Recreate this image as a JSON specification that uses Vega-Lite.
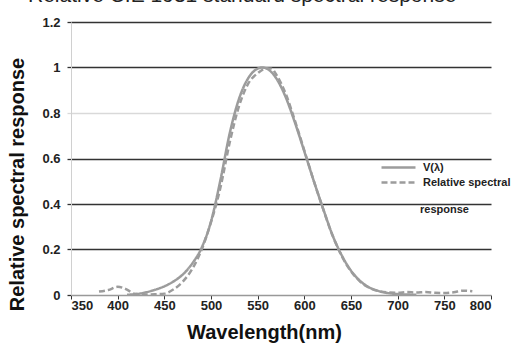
{
  "$schema": "https://vega.github.io/schema/vega-lite/v6.json",
  "width": 420,
  "height": 273,
  "autosize": "none",
  "padding": {"left": 71, "top": 22, "right": 21, "bottom": 52},
  "background": "white",
  "title": {
    "text": "Relative CIE 1931 standard spectral response",
    "anchor": "start",
    "frame": "group",
    "baseline": "alphabetic",
    "offset": 5,
    "dy": 12,
    "dx": -43,
    "font": "Liberation Sans",
    "fontSize": 21,
    "fontWeight": "normal",
    "color": "#222"
  },
  "data": {
    "values": [
      {"wl": 410, "v": 0.0012, "s": "V(λ)"},
      {"wl": 420, "v": 0.004, "s": "V(λ)"},
      {"wl": 430, "v": 0.0116, "s": "V(λ)"},
      {"wl": 440, "v": 0.023, "s": "V(λ)"},
      {"wl": 450, "v": 0.038, "s": "V(λ)"},
      {"wl": 460, "v": 0.06, "s": "V(λ)"},
      {"wl": 470, "v": 0.091, "s": "V(λ)"},
      {"wl": 480, "v": 0.139, "s": "V(λ)"},
      {"wl": 490, "v": 0.208, "s": "V(λ)"},
      {"wl": 500, "v": 0.323, "s": "V(λ)"},
      {"wl": 510, "v": 0.503, "s": "V(λ)"},
      {"wl": 520, "v": 0.71, "s": "V(λ)"},
      {"wl": 530, "v": 0.862, "s": "V(λ)"},
      {"wl": 540, "v": 0.954, "s": "V(λ)"},
      {"wl": 550, "v": 0.995, "s": "V(λ)"},
      {"wl": 555, "v": 1.0, "s": "V(λ)"},
      {"wl": 560, "v": 0.995, "s": "V(λ)"},
      {"wl": 570, "v": 0.952, "s": "V(λ)"},
      {"wl": 580, "v": 0.87, "s": "V(λ)"},
      {"wl": 590, "v": 0.757, "s": "V(λ)"},
      {"wl": 600, "v": 0.631, "s": "V(λ)"},
      {"wl": 610, "v": 0.503, "s": "V(λ)"},
      {"wl": 620, "v": 0.381, "s": "V(λ)"},
      {"wl": 630, "v": 0.265, "s": "V(λ)"},
      {"wl": 640, "v": 0.175, "s": "V(λ)"},
      {"wl": 650, "v": 0.107, "s": "V(λ)"},
      {"wl": 660, "v": 0.061, "s": "V(λ)"},
      {"wl": 670, "v": 0.032, "s": "V(λ)"},
      {"wl": 680, "v": 0.017, "s": "V(λ)"},
      {"wl": 690, "v": 0.0082, "s": "V(λ)"},
      {"wl": 700, "v": 0.0041, "s": "V(λ)"},
      {"wl": 710, "v": 0.0021, "s": "V(λ)"},
      {"wl": 720, "v": 0.00105, "s": "V(λ)"},
      {"wl": 380, "v": 0.015, "s": "Relative spectral response"},
      {"wl": 390, "v": 0.022, "s": "Relative spectral response"},
      {"wl": 400, "v": 0.036, "s": "Relative spectral response"},
      {"wl": 410, "v": 0.024, "s": "Relative spectral response"},
      {"wl": 418, "v": 0.005, "s": "Relative spectral response"},
      {"wl": 430, "v": 0.002, "s": "Relative spectral response"},
      {"wl": 440, "v": 0.003, "s": "Relative spectral response"},
      {"wl": 450, "v": 0.006, "s": "Relative spectral response"},
      {"wl": 460, "v": 0.025, "s": "Relative spectral response"},
      {"wl": 470, "v": 0.06, "s": "Relative spectral response"},
      {"wl": 480, "v": 0.115, "s": "Relative spectral response"},
      {"wl": 490, "v": 0.2, "s": "Relative spectral response"},
      {"wl": 500, "v": 0.32, "s": "Relative spectral response"},
      {"wl": 510, "v": 0.47, "s": "Relative spectral response"},
      {"wl": 520, "v": 0.67, "s": "Relative spectral response"},
      {"wl": 530, "v": 0.83, "s": "Relative spectral response"},
      {"wl": 540, "v": 0.93, "s": "Relative spectral response"},
      {"wl": 550, "v": 0.975, "s": "Relative spectral response"},
      {"wl": 560, "v": 0.997, "s": "Relative spectral response"},
      {"wl": 565, "v": 0.995, "s": "Relative spectral response"},
      {"wl": 570, "v": 0.968, "s": "Relative spectral response"},
      {"wl": 580, "v": 0.885, "s": "Relative spectral response"},
      {"wl": 590, "v": 0.765, "s": "Relative spectral response"},
      {"wl": 600, "v": 0.635, "s": "Relative spectral response"},
      {"wl": 610, "v": 0.503, "s": "Relative spectral response"},
      {"wl": 620, "v": 0.38, "s": "Relative spectral response"},
      {"wl": 630, "v": 0.264, "s": "Relative spectral response"},
      {"wl": 640, "v": 0.172, "s": "Relative spectral response"},
      {"wl": 650, "v": 0.104, "s": "Relative spectral response"},
      {"wl": 660, "v": 0.058, "s": "Relative spectral response"},
      {"wl": 670, "v": 0.031, "s": "Relative spectral response"},
      {"wl": 680, "v": 0.017, "s": "Relative spectral response"},
      {"wl": 690, "v": 0.011, "s": "Relative spectral response"},
      {"wl": 700, "v": 0.01, "s": "Relative spectral response"},
      {"wl": 710, "v": 0.013, "s": "Relative spectral response"},
      {"wl": 720, "v": 0.011, "s": "Relative spectral response"},
      {"wl": 730, "v": 0.013, "s": "Relative spectral response"},
      {"wl": 740, "v": 0.01, "s": "Relative spectral response"},
      {"wl": 750, "v": 0.009, "s": "Relative spectral response"},
      {"wl": 760, "v": 0.012, "s": "Relative spectral response"},
      {"wl": 770, "v": 0.019, "s": "Relative spectral response"},
      {"wl": 780, "v": 0.016, "s": "Relative spectral response"}
    ]
  },
  "mark": {"type": "line", "strokeWidth": 2.5, "color": "#9c9c9c", "interpolate": "monotone"},
  "encoding": {
    "x": {
      "field": "wl",
      "type": "quantitative",
      "scale": {"domain": [350, 800], "nice": false},
      "axis": {
        "title": "Wavelength(nm)",
        "values": [350, 400, 450, 500, 550, 600, 650, 700, 750, 800],
        "grid": false,
        "domainColor": "#999",
        "domainWidth": 1.5,
        "tickColor": "#333",
        "tickSize": 4,
        "labelPadding": 0,
        "labelFont": "Liberation Sans",
        "labelFontSize": 13,
        "labelFontWeight": "bold",
        "labelColor": "#222",
        "titleFont": "Liberation Sans",
        "titleFontSize": 20,
        "titleFontWeight": "bold",
        "titleColor": "#111",
        "titleX": 193,
        "titleY": 43,
        "titleBaseline": "alphabetic",
        "titleAnchor": "middle"
      }
    },
    "y": {
      "field": "v",
      "type": "quantitative",
      "scale": {"domain": [0, 1.2], "nice": false},
      "axis": {
        "title": "Relative spectral response",
        "values": [0, 0.2, 0.4, 0.6, 0.8, 1, 1.2],
        "labelExpr": "datum.value == 0 ? '0' : datum.value == 1 ? '1' : format(datum.value, '.1f')",
        "grid": true,
        "gridColor": {"condition": {"test": "datum.value == 0.8", "value": "#d9d9d9"}, "value": "#333"},
        "gridWidth": 1.3,
        "gridOpacity": {"condition": {"test": "datum.value == 0", "value": 0}, "value": 1},
        "domainColor": "#d0d0d0",
        "tickColor": {"condition": {"test": "datum.value == 0.8", "value": "#d9d9d9"}, "value": "#333"},
        "tickSize": 4,
        "tickWidth": 1.3,
        "labelPadding": 7,
        "labelFont": "Liberation Sans",
        "labelFontSize": 13,
        "labelFontWeight": "bold",
        "labelColor": "#222",
        "titleFont": "Liberation Sans",
        "titleFontSize": 20,
        "titleFontWeight": "bold",
        "titleColor": "#111",
        "titleX": -54,
        "titleY": 162,
        "titleAngle": -90,
        "titleBaseline": "middle",
        "titleAlign": "center"
      }
    },
    "strokeDash": {
      "field": "s",
      "type": "nominal",
      "scale": {"domain": ["V(λ)", "Relative spectral response"], "range": [[1, 0], [6, 3]]},
      "legend": {
        "title": "response",
        "titleOrient": "bottom",
        "titleAnchor": "start",
        "titleFont": "Liberation Sans",
        "titleFontSize": 11,
        "titleFontWeight": "bold",
        "titleColor": "#222",
        "titlePadding": 15,
        "orient": "none",
        "legendX": 309,
        "legendY": 139,
        "padding": 0,
        "clipHeight": 13,
        "symbolType": "stroke",
        "symbolSize": 1156,
        "symbolStrokeWidth": 2.5,
        "symbolStrokeColor": "#9c9c9c",
        "labelOffset": 6,
        "labelFont": "Liberation Sans",
        "labelFontSize": 11,
        "labelFontWeight": "bold",
        "labelColor": "#222",
        "labelLimit": 200,
        "rowPadding": 2,
        "labelExpr": "datum.label == 'Relative spectral response' ? 'Relative spectral' : datum.label",
        "encode": {
          "title": {
            "update": {
              "dx": {"value": 40}
            }
          }
        }
      }
    }
  },
  "config": {"view": {"stroke": null}}
}
